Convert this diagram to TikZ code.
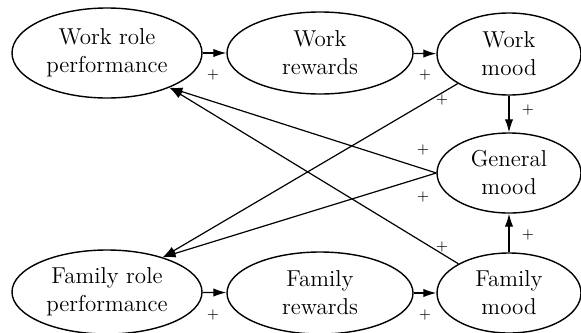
\documentclass[tikz,border=0pt]{standalone}
\usetikzlibrary{shapes.geometric,arrows.meta}

\begin{document}
\begin{tikzpicture}[x=0.5pt,y=-0.5pt,
        var/.style={ellipse,draw,line width=0.7pt,inner sep=0pt,align=center,
                    font=\fontsize{11.5}{14}\selectfont},
        link/.style={line width=0.6pt,-{Latex[length=6.5pt,width=4.2pt]}},
        sign/.style={font=\fontsize{7.5}{8}\selectfont,inner sep=0pt}]
        \useasboundingbox (0,0) rectangle (581,332);
        \node [var,minimum width=95pt,minimum height=45pt] (wrp) at (107,53)  {Work role\\performance};
        \node [var,minimum width=93pt,minimum height=41pt] (wr)  at (320,53)  {Work\\rewards};
        \node [var,minimum width=72pt,minimum height=41pt] (wm)  at (509,54)  {Work\\mood};
        \node [var,minimum width=72pt,minimum height=40pt] (gm)  at (509,173) {General\\mood};
        \node [var,minimum width=95pt,minimum height=42pt] (frp) at (107,292) {Family role\\performance};
        \node [var,minimum width=93pt,minimum height=41pt] (fr)  at (320,293) {Family\\rewards};
        \node [var,minimum width=72pt,minimum height=40pt] (fm)  at (509,293) {Family\\mood};
        \draw [link] (wrp) -- (wr);
        \draw [link] (wr) -- (wm);
        \draw [link] (wm) -- (gm);
        \draw [link] (fm) -- (gm);
        \draw [link] (frp) -- (fr);
        \draw [link] (fr) -- (fm);
        \draw [link] (gm.west) -- (wrp.-29);
        \draw [link] (fm.150) -- (wrp.-29);
        \draw [link] (gm.west) -- (frp.32);
        \draw [link] (wm.-150) -- (frp.32);
        \node [sign] (s1)  at (213,75)  {$+$};
        \node [sign] (s2)  at (425,75)  {$+$};
        \node [sign] (s3)  at (528,110) {$+$};
        \node [sign] (s4)  at (442,100) {$+$};
        \node [sign] (s5)  at (423,150) {$+$};
        \node [sign] (s6)  at (423,197) {$+$};
        \node [sign] (s7)  at (528,235) {$+$};
        \node [sign] (s8)  at (442,247) {$+$};
        \node [sign] (s9)  at (213,315) {$+$};
        \node [sign] (s10) at (425,315) {$+$};
    \end{tikzpicture}
\end{document}
